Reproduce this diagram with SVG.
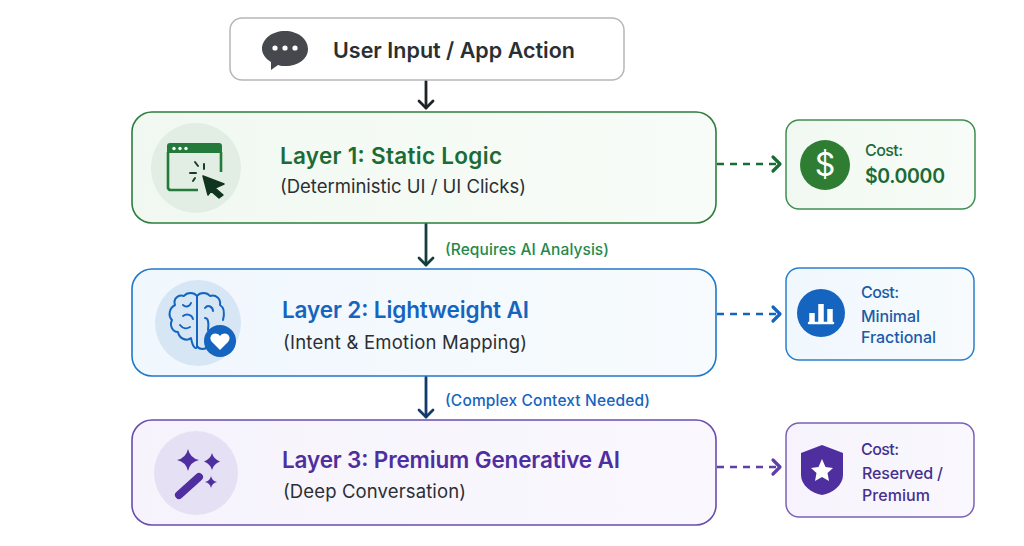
<svg xmlns="http://www.w3.org/2000/svg" width="1024" height="546" viewBox="0 0 1024 546">
<defs>
<linearGradient id="gg" x1="0" x2="1" y1="0" y2="0"><stop offset="0" stop-color="#f1f8f1"/><stop offset="1" stop-color="#f8fcf8"/></linearGradient>
<linearGradient id="gb" x1="0" x2="1" y1="0" y2="0"><stop offset="0" stop-color="#f0f7fd"/><stop offset="1" stop-color="#f7fbfe"/></linearGradient>
<linearGradient id="gp" x1="0" x2="1" y1="0" y2="0"><stop offset="0" stop-color="#f6f3fc"/><stop offset="1" stop-color="#faf8fe"/></linearGradient>
</defs>
<style>
text{font-family:Inter,"Noto Sans","Liberation Sans",sans-serif}
.h{font-size:22.5px;font-weight:600}
.s{font-size:18.5px;font-weight:400;fill:#2b2f33}
.c{font-size:16px;font-weight:500}
.e{font-size:15.5px;font-weight:500}
.g{fill:#1b6b35}.b{fill:#1565c0}.p{fill:#4f2f9f}
.dn{fill:none;stroke-width:2.8;stroke-linecap:round;stroke-linejoin:round}
.ar{fill:none;stroke-width:3.2;stroke-linecap:round;stroke-linejoin:round}
.ds{fill:none;stroke-width:2.6;stroke-dasharray:7 6}
</style>
<rect width="1024" height="546" fill="#fff"/>
<g id="connectors">
<g stroke="#1d2327" class="dn"><path d="M426 81V108"/><path d="M419 101L426 108L433 101"/></g>
<g stroke="#123f3c" class="dn"><path d="M426 224V265"/><path d="M419 258L426 265L433 258"/></g>
<g stroke="#123a6b" class="dn"><path d="M426 377V417"/><path d="M419 410L426 417L433 410"/></g>
<path class="ds" stroke="#1b6b35" d="M717 164H778"/><path class="ar" stroke="#1b6b35" d="M773 157L780 164L773 171"/>
<path class="ds" stroke="#1565c0" d="M717 314H778"/><path class="ar" stroke="#1565c0" d="M773 307L780 314L773 321"/>
<path class="ds" stroke="#5e3fa8" d="M717 467H778"/><path class="ar" stroke="#5e3fa8" d="M773 460L780 467L773 474"/>
</g>
<text class="e" x="445" y="255" fill="#1f8a4c" textLength="164">(Requires AI Analysis)</text>
<text class="e" x="445" y="406" fill="#1565c0" textLength="205">(Complex Context Needed)</text>
<g id="input">
<rect x="230" y="18" width="394" height="62" rx="12" fill="#fff" stroke="#b4b7ba" stroke-width="1.5"/>
<path d="M285 31C298 31 308 39 308 49C308 59 298 66 286 66C283 66 280 66 278 65L271 70L271 62C266 59 262 54 262 49C262 39 272 31 285 31Z" fill="#45494d"/>
<circle cx="275" cy="48" r="2.6" fill="#fff"/><circle cx="285" cy="48" r="2.6" fill="#fff"/><circle cx="295" cy="48" r="2.6" fill="#fff"/>
<text x="333" y="58" font-size="21.5" font-weight="600" fill="#2b2f33" textLength="242">User Input / App Action</text>
</g>
<g id="layer1">
<rect x="132" y="112" width="584" height="111" rx="20" fill="url(#gg)" stroke="#2e7d3c" stroke-width="1.6"/>
<circle cx="196" cy="168" r="45" fill="#e2eee3"/>
<path d="M167 153V146A3 3 0 0 1 170 143H219A3 3 0 0 1 222 146V153Z" fill="#237a3a"/>
<circle cx="174" cy="148.500" r="1.7" fill="#fff"/><circle cx="180" cy="148.500" r="1.7" fill="#fff"/><circle cx="186" cy="148.500" r="1.700" fill="#fff"/>
<path d="M168 152V188A3 3 0 0 0 171 190H198M221 152V172" fill="none" stroke="#237a3a" stroke-width="2.6"/>
<path d="M203 176L224 184L215 188L223 195L219 198L211 191L208 195Z" fill="#10341f" stroke="#10341f" stroke-width="1.5" stroke-linejoin="round"/>
<path d="M195 162L198 166M204 164V169M190 173H196M193 181L195 178" fill="none" stroke="#14402a" stroke-width="2" stroke-linecap="round"/>
<text class="h g" x="280" y="164" textLength="222">Layer 1: Static Logic</text>
<text class="s" x="280" y="193" textLength="246">(Deterministic UI / UI Clicks)</text>
</g>
<g id="layer2">
<rect x="132" y="269" width="584" height="107" rx="20" fill="url(#gb)" stroke="#1f78c8" stroke-width="1.6"/>
<circle cx="198" cy="323" r="43" fill="#d6e6f5"/>
<g fill="none" stroke="#1565c0" stroke-width="2" stroke-linecap="round" stroke-linejoin="round">
<path d="M197 296C194 292 187 292 184 296C178 294 173 299 175 305C169 308 168 316 172 320C169 326 173 332 178 332C179 338 186 342 191 338C193 349 197 350 197 346Z"/>
<path d="M197 296V346C199 350 206 350 208 346L214 345M197 296C200 292 207 292 210 296C216 294 221 299 220 305C225 308 224 316 223 320"/>
<path d="M183 305C186 308 190 306 191 303M183 316C187 313 192 315 193 319M180 325C183 329 187 329 190 327M205 308C208 304 213 307 213 311M205 318C208 318 209 322 208 330"/>
</g>
<circle cx="220" cy="341" r="16" fill="#1565c0"/>
<path d="M220 350L212 342C207 336 215 330 220 336C225 330 233 336 228 342Z" fill="#fff"/>
<text class="h b" x="282" y="318" textLength="247">Layer 2: Lightweight AI</text>
<text class="s" x="283" y="349" textLength="244">(Intent &amp; Emotion Mapping)</text>
</g>
<g id="layer3">
<rect x="132" y="420" width="584" height="105" rx="20" fill="url(#gp)" stroke="#6a4cae" stroke-width="1.6"/>
<circle cx="196" cy="473" r="42" fill="#e5e0f3"/>
<g fill="#4f2f9f">
<path d="M188 449Q190 458 199 460Q190 462 188 471Q186 462 177 460Q186 458 188 449Z"/>
<path d="M212 453Q213.500 459 220 461.500Q213.500 464 212 470Q210.500 464 204 461.500Q210.500 459 212 453Z"/>
<path d="M211 476Q212 481 217 482Q212 483 211 488Q210 483 205 482Q210 481 211 476Z"/>
</g>
<path d="M179 495L199 477" stroke="#4f2f9f" stroke-width="8" stroke-linecap="round"/>
<text class="h p" x="282" y="468" textLength="338">Layer 3: Premium Generative AI</text>
<text class="s" x="283" y="498" textLength="183">(Deep Conversation)</text>
</g>
<g id="cost1">
<rect x="786" y="120" width="189" height="89" rx="13" fill="url(#gg)" stroke="#3f8f50" stroke-width="1.500"/>
<circle cx="825" cy="165" r="25" fill="#2e7d32"/>
<text x="825" y="176" font-size="32" font-weight="400" fill="#fff" text-anchor="middle">$</text>
<text class="c g" x="865" y="156" textLength="38">Cost:</text>
<text x="865" y="183" font-size="19.500" font-weight="600" class="g" textLength="80">$0.0000</text>
</g>
<g id="cost2">
<rect x="786" y="268" width="188" height="92" rx="13" fill="url(#gb)" stroke="#2a80cc" stroke-width="1.500"/>
<circle cx="821" cy="313" r="24" fill="#1565c0"/>
<path d="M812 323V313M821 323V304M830 323V309" stroke="#fff" stroke-width="5.500" fill="none"/><path d="M809 323H833" stroke="#fff" stroke-width="2.500" stroke-linecap="round"/>
<text class="c" fill="#1a5ca8" x="861" y="298" textLength="38">Cost:</text>
<text class="c" fill="#1a5ca8" x="861" y="322" textLength="59">Minimal</text>
<text class="c" fill="#1a5ca8" x="861" y="343" textLength="75">Fractional</text>
</g>
<g id="cost3">
<rect x="786" y="423" width="188" height="94" rx="13" fill="url(#gp)" stroke="#7a62b8" stroke-width="1.500"/>
<path d="M822 445L843 453V475C843 485 833 493 822 495C811 493 801 485 801 475V453Z" fill="#4f2f9f"/>
<path d="M822 459L825.500 467L833 468L827.500 473L829 481L822 477L815 481L816.500 473L811 468L818.500 467Z" fill="#fff"/>
<text class="c" fill="#44308f" x="861" y="455" textLength="38">Cost:</text>
<text class="c" fill="#44308f" x="862" y="479" textLength="81">Reserved /</text>
<text class="c" fill="#44308f" x="862" y="501" textLength="68">Premium</text>
</g>
</svg>
